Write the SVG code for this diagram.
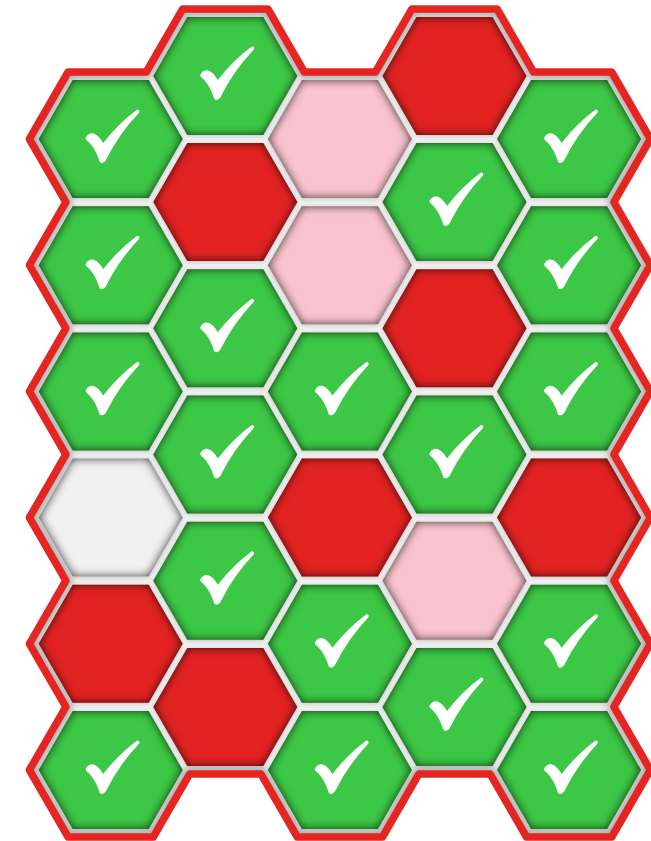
<svg xmlns="http://www.w3.org/2000/svg" xmlns:xlink="http://www.w3.org/1999/xlink" width="651" height="841" viewBox="0 0 651 841">
<style>
.g{fill:#3cc846}
.r{fill:#e32322}
.p{fill:#fac4cf}
.w{fill:#f1f1f1}
.hx{filter:url(#hx)}
.ck{fill:#ffffff}
</style>
<defs>
<polygon id="hex" points="-72,0 -38,-59 38,-59 72,0 38,59 -38,59"/>
<path id="chk" d="M -24.5 -2 Q -22 -6.5 -17 -5.5 Q -12 -4 -7.5 4 Q 8 -16 26.5 -29.5 Q 29.5 -29.5 28.5 -26.5 Q 8 -5 -5 21.5 Q -8 25.5 -11 23 Q -15 10 -22 3 Q -26.5 0 -24.5 -2 Z"/>
<path id="outline" d="M29.4,139 L68.1,72 L146.25,72 L182.7,8.9 L267.9,8.9 L304.35,72 L375.45,72 L411.9,8.9 L497.1,8.9 L533.55,72 L611.7,72 L650.4,139 L613.95,202.1 L650.4,265.2 L613.95,328.3 L650.4,391.4 L613.95,454.5 L650.4,517.6 L613.95,580.7 L650.4,643.8 L613.95,706.9 L650.4,770 L611.7,837 L526.5,837 L490.05,773.9 L418.95,773.9 L382.5,837 L297.3,837 L260.85,773.9 L189.75,773.9 L153.3,837 L68.1,837 L29.4,770 L65.85,706.9 L29.4,643.8 L65.85,580.7 L29.4,517.6 L65.85,454.5 L29.4,391.4 L65.85,328.3 L29.4,265.2 L65.85,202.1 Z"/>
<clipPath id="inside"><use xlink:href="#outline"/></clipPath>
<filter id="blur3" x="-5%" y="-5%" width="110%" height="110%"><feGaussianBlur stdDeviation="3"/></filter>
<filter id="hx" x="-15%" y="-15%" width="130%" height="130%" color-interpolation-filters="sRGB">
<feGaussianBlur in="SourceAlpha" stdDeviation="2" result="b"/>
<feOffset in="b" dy="1" result="bo"/>
<feFlood flood-color="#000" flood-opacity="0.18"/>
<feComposite in2="bo" operator="in" result="ds"/>
<feComponentTransfer in="SourceAlpha" result="inv"><feFuncA type="table" tableValues="1 0"/></feComponentTransfer>
<feGaussianBlur in="inv" stdDeviation="5" result="ib"/>
<feComposite in="ib" in2="SourceAlpha" operator="in" result="im"/>
<feFlood flood-color="#000" flood-opacity="0.75"/>
<feComposite in2="im" operator="in" result="is"/>
<feMerge><feMergeNode in="ds"/><feMergeNode in="SourceGraphic"/><feMergeNode in="is"/></feMerge>
</filter>
</defs>
<rect width="651" height="841" fill="#ffffff"/>
<g id="board">
<use xlink:href="#outline" fill="#f0f0f0"/>
<use xlink:href="#outline" fill="none" stroke="#000" stroke-opacity="0.3" stroke-width="12" filter="url(#blur3)" clip-path="url(#inside)"/>
<use xlink:href="#outline" fill="none" stroke="#e52521" stroke-width="7.5" stroke-linejoin="round"/>
</g>
<g id="c0r0" transform="translate(110.7,139)"><use xlink:href="#hex" class="hx g"/><use xlink:href="#chk" class="ck"/></g>
<g id="c0r1" transform="translate(110.7,265.2)"><use xlink:href="#hex" class="hx g"/><use xlink:href="#chk" class="ck"/></g>
<g id="c0r2" transform="translate(110.7,391.4)"><use xlink:href="#hex" class="hx g"/><use xlink:href="#chk" class="ck"/></g>
<g id="c0r3" transform="translate(110.7,517.6)"><use xlink:href="#hex" class="hx w"/></g>
<g id="c0r4" transform="translate(110.7,643.8)"><use xlink:href="#hex" class="hx r"/></g>
<g id="c0r5" transform="translate(110.7,770)"><use xlink:href="#hex" class="hx g"/><use xlink:href="#chk" class="ck"/></g>
<g id="c1r0" transform="translate(225.3,75.9)"><use xlink:href="#hex" class="hx g"/><use xlink:href="#chk" class="ck"/></g>
<g id="c1r1" transform="translate(225.3,202.1)"><use xlink:href="#hex" class="hx r"/></g>
<g id="c1r2" transform="translate(225.3,328.3)"><use xlink:href="#hex" class="hx g"/><use xlink:href="#chk" class="ck"/></g>
<g id="c1r3" transform="translate(225.3,454.5)"><use xlink:href="#hex" class="hx g"/><use xlink:href="#chk" class="ck"/></g>
<g id="c1r4" transform="translate(225.3,580.7)"><use xlink:href="#hex" class="hx g"/><use xlink:href="#chk" class="ck"/></g>
<g id="c1r5" transform="translate(225.3,706.9)"><use xlink:href="#hex" class="hx r"/></g>
<g id="c2r0" transform="translate(339.9,139)"><use xlink:href="#hex" class="hx p"/></g>
<g id="c2r1" transform="translate(339.9,265.2)"><use xlink:href="#hex" class="hx p"/></g>
<g id="c2r2" transform="translate(339.9,391.4)"><use xlink:href="#hex" class="hx g"/><use xlink:href="#chk" class="ck"/></g>
<g id="c2r3" transform="translate(339.9,517.6)"><use xlink:href="#hex" class="hx r"/></g>
<g id="c2r4" transform="translate(339.9,643.8)"><use xlink:href="#hex" class="hx g"/><use xlink:href="#chk" class="ck"/></g>
<g id="c2r5" transform="translate(339.9,770)"><use xlink:href="#hex" class="hx g"/><use xlink:href="#chk" class="ck"/></g>
<g id="c3r0" transform="translate(454.5,75.9)"><use xlink:href="#hex" class="hx r"/></g>
<g id="c3r1" transform="translate(454.5,202.1)"><use xlink:href="#hex" class="hx g"/><use xlink:href="#chk" class="ck"/></g>
<g id="c3r2" transform="translate(454.5,328.3)"><use xlink:href="#hex" class="hx r"/></g>
<g id="c3r3" transform="translate(454.5,454.5)"><use xlink:href="#hex" class="hx g"/><use xlink:href="#chk" class="ck"/></g>
<g id="c3r4" transform="translate(454.5,580.7)"><use xlink:href="#hex" class="hx p"/></g>
<g id="c3r5" transform="translate(454.5,706.9)"><use xlink:href="#hex" class="hx g"/><use xlink:href="#chk" class="ck"/></g>
<g id="c4r0" transform="translate(569.1,139)"><use xlink:href="#hex" class="hx g"/><use xlink:href="#chk" class="ck"/></g>
<g id="c4r1" transform="translate(569.1,265.2)"><use xlink:href="#hex" class="hx g"/><use xlink:href="#chk" class="ck"/></g>
<g id="c4r2" transform="translate(569.1,391.4)"><use xlink:href="#hex" class="hx g"/><use xlink:href="#chk" class="ck"/></g>
<g id="c4r3" transform="translate(569.1,517.6)"><use xlink:href="#hex" class="hx r"/></g>
<g id="c4r4" transform="translate(569.1,643.8)"><use xlink:href="#hex" class="hx g"/><use xlink:href="#chk" class="ck"/></g>
<g id="c4r5" transform="translate(569.1,770)"><use xlink:href="#hex" class="hx g"/><use xlink:href="#chk" class="ck"/></g>
</svg>
